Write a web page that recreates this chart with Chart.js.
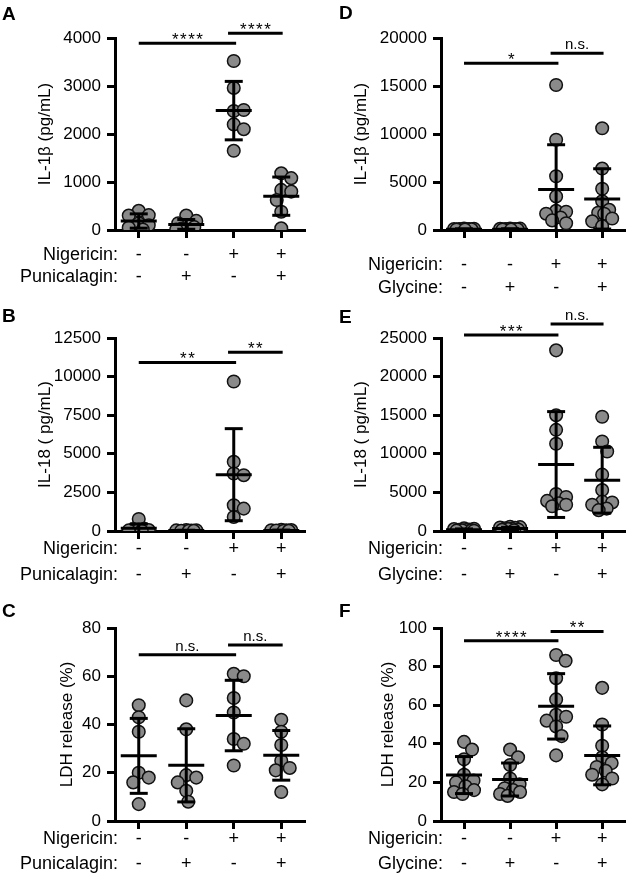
<!DOCTYPE html>
<html><head><meta charset="utf-8">
<script src="https://cdn.jsdelivr.net/npm/chart.js@4.4.1/dist/chart.umd.min.js"></script>
<style>
html,body{margin:0;padding:0;background:#fff;}
#wrap{position:relative;width:633px;height:874px;overflow:hidden;}
canvas{position:absolute;}
</style></head><body><div id="wrap">
<canvas id="cA" width="316" height="304" style="left:0;top:0"></canvas>
<canvas id="cD" width="317" height="304" style="left:316px;top:0"></canvas>
<canvas id="cB" width="316" height="304" style="left:0;top:290px"></canvas>
<canvas id="cE" width="317" height="304" style="left:316px;top:290px"></canvas>
<canvas id="cC" width="316" height="294" style="left:0;top:580px"></canvas>
<canvas id="cF" width="317" height="294" style="left:316px;top:580px"></canvas>
</div>
<script>
// ---------- data ----------
const nigericinRow = ['-', '-', '+', '+'];
const punicalaginRow = ['-', '+', '-', '+'];
const glycineRow = ['-', '+', '-', '+'];

// Panel A: IL-1β (pg/mL), punicalagin
const il1bPunicalagin = [
  [400, 310, 300, 140, 100, 50, 10],
  [300, 190, 140, 90, 60, 30, 10],
  [3520, 2960, 2480, 2500, 2200, 2100, 1650],
  [1180, 1080, 835, 800, 625, 380, 35]
];
// Panel B: IL-18 (pg/mL), punicalagin
const il18Punicalagin = [
  [780, 150, 120, 100, 60, 40, 20],
  [60, 50, 40, 30, 20, 10, 5],
  [9680, 4480, 3725, 3615, 1670, 1450, 910],
  [70, 60, 50, 40, 30, 20, 10]
];
// Panel C: LDH release (%), punicalagin
const ldhPunicalagin = [
  [48, 43, 37, 20, 18, 16, 7],
  [50, 38, 19, 18, 16, 12.5, 8],
  [61, 60, 51, 45, 34, 32, 23],
  [42, 37, 31.5, 25, 22, 21, 12]
];
// Panel D: IL-1β (pg/mL), glycine
const il1bGlycine = [
  [150, 130, 110, 100, 90, 80, 70, 60, 50, 40],
  [160, 140, 120, 100, 90, 80, 70, 60, 50, 40],
  [15100, 9400, 5600, 3500, 2000, 1900, 1700, 1300, 1000, 700],
  [10600, 6400, 4300, 3000, 2100, 1800, 1700, 1200, 900, 400]
];
// Panel E: IL-18 (pg/mL), glycine
const il18Glycine = [
  [350, 300, 250, 200, 150, 120, 100, 80, 50, 30],
  [550, 500, 450, 400, 350, 300, 250, 200, 150, 100],
  [23400, 15000, 13100, 11300, 4800, 4400, 3900, 3600, 3400, 3200],
  [14800, 11600, 10300, 7300, 5300, 3800, 3700, 3400, 2900, 2700]
];
// Panel F: LDH release (%), glycine
const ldhGlycine = [
  [41, 37, 32, 24, 21, 20, 18, 16, 15, 14],
  [37, 33, 29, 22, 19, 17, 16, 15, 14, 13],
  [86, 83, 74, 63, 55, 54, 52, 49, 44, 34],
  [69, 50, 39, 33, 30, 28, 26, 24, 22, 19]
];

// y tick labels
const ticksA = [0, 1000, 2000, 3000, 4000];
const ticksB = [0, 2500, 5000, 7500, 10000, 12500];
const ticksC = [0, 20, 40, 60, 80];
const ticksD = [0, 5000, 10000, 15000, 20000];
const ticksE = [0, 5000, 10000, 15000, 20000, 25000];
const ticksF = [0, 20, 40, 60, 80, 100];

// significance bars: [from group, to group, y value, label]
const sigA = [[0, 2.05, 3890, '****'], [1.88, 3.03, 4097, '****']];
const sigB = [[0, 2.05, 10920, '**'], [1.88, 3.03, 11570, '**']];
const sigC = [[0, 2.05, 68.9, 'n.s.'], [1.88, 3.03, 73, 'n.s.']];
const sigD = [[0, 2.05, 17360, '*'], [1.88, 3.03, 18400, 'n.s.']];
const sigE = [[0, 2.05, 25400, '***'], [1.88, 3.03, 26800, 'n.s.']];
const sigF = [[0, 2.05, 93.4, '****'], [1.88, 3.03, 98.2, '**']];

// ---------- drawing ----------
const FONT = '"Liberation Sans", Arial, Helvetica, sans-serif';
const mean = a => a.reduce((s, v) => s + v, 0) / a.length;
const sd = a => { const m = mean(a); return Math.sqrt(a.reduce((s, v) => s + (v - m) * (v - m), 0) / (a.length - 1)); };

function seg(ctx, x1, y1, x2, y2) { ctx.beginPath(); ctx.moveTo(x1, y1); ctx.lineTo(x2, y2); ctx.stroke(); }

const decoPlugin = {
  id: 'deco',
  afterDatasetsDraw(chart) {
    const cfg = chart.options.plugins.deco;
    const ctx = chart.ctx, xs = chart.scales.x, ys = chart.scales.y;
    ctx.save();
    ctx.strokeStyle = '#000'; ctx.lineWidth = 3; ctx.lineCap = 'butt';
    cfg.groups.forEach((vals, i) => {
      const m = mean(vals), s = sd(vals);
      const cx = xs.getPixelForValue(i);
      const yTop = ys.getPixelForValue(m + s);
      const lo = Math.max(m - s, 0);
      const yBot = ys.getPixelForValue(lo);
      const yM = ys.getPixelForValue(m);
      seg(ctx, cx, yTop, cx, yBot);
      seg(ctx, cx - 9, yTop, cx + 9, yTop);
      if (m - s > 0) seg(ctx, cx - 9, yBot, cx + 9, yBot);
      seg(ctx, cx - 18, yM, cx + 18, yM);
    });
    ctx.restore();
  },
  afterDraw(chart) {
    const cfg = chart.options.plugins.deco;
    const ctx = chart.ctx, xs = chart.scales.x, ys = chart.scales.y;
    ctx.save();
    ctx.strokeStyle = '#000'; ctx.fillStyle = '#000'; ctx.lineWidth = 3;
    // significance bars
    cfg.sig.forEach(([a, b, yv, lab]) => {
      const x1 = xs.getPixelForValue(a), x2 = xs.getPixelForValue(b);
      const y = ys.getPixelForValue(yv);
      seg(ctx, x1, y, x2, y);
      ctx.textAlign = 'center'; ctx.textBaseline = 'alphabetic';
      if (lab === 'n.s.') {
        ctx.font = '15px ' + FONT;
        ctx.fillText(lab, (x1 + x2) / 2, y - 4);
      } else {
        ctx.font = '17px ' + FONT;
        ctx.letterSpacing = '1.5px';
        ctx.fillText(lab, (x1 + x2) / 2 + 0.75, y + 2);
        ctx.letterSpacing = '0px';
      }
    });
    // bottom rows
    ctx.font = '18px ' + FONT;
    ctx.textBaseline = 'middle';
    cfg.rows.forEach((row, r) => {
      const y = ys.bottom + cfg.rowOff[r];
      ctx.textAlign = 'right';
      ctx.fillText(cfg.rowNames[r], cfg.labelRight, y);
      ctx.textAlign = 'center';
      row.forEach((sym, i) => ctx.fillText(sym, xs.getPixelForValue(i), y));
    });
    // panel letter
    ctx.font = 'bold 19px ' + FONT;
    ctx.textAlign = 'left'; ctx.textBaseline = 'alphabetic';
    ctx.fillText(cfg.letter, cfg.letterX, cfg.letterY);
    ctx.restore();
  }
};

function swarm(chart, groups) {
  const xs = chart.scales.x, ys = chart.scales.y;
  const unit = xs.getPixelForValue(1) - xs.getPixelForValue(0);
  const MIND = 11, MAXW = 10;
  const pts = [];
  groups.forEach((vals, gi) => {
    const placed = [];
    vals.forEach(v => {
      const py = ys.getPixelForValue(v);
      const cands = [0];
      for (let d = 0.5; d <= MAXW; d += 0.5) cands.push(d, -d);
      let best = 0, bestScore = -1;
      for (const dx of cands) {
        let mind = Infinity;
        for (const p of placed) { const dd = Math.hypot(dx - p.dx, py - p.py); if (dd < mind) mind = dd; }
        if (mind >= MIND) { best = dx; break; }
        if (mind > bestScore) { bestScore = mind; best = dx; }
      }
      placed.push({ dx: best, py });
      pts.push({ x: gi + best / unit, y: v });
    });
  });
  chart.data.datasets[0].data = pts;
  chart.update('none');
}

function makePanel(id, p) {
  const el = document.getElementById(id);
  const init = [];
  p.groups.forEach((vals, gi) => vals.forEach(v => init.push({ x: gi, y: v })));
  const axisGrid = { display: true, drawOnChartArea: false, drawTicks: true, tickLength: 8, tickWidth: 3, tickColor: '#000' };
  const axisBorder = { display: true, width: 3, color: '#000' };
  const chart = new Chart(el, {
    type: 'scatter',
    data: { datasets: [{
      data: init, pointRadius: 6.3, pointHoverRadius: 6.3, pointBorderWidth: 1.5,
      backgroundColor: '#8a8a8a', borderColor: '#111', showLine: false
    }] },
    options: {
      responsive: false, animation: false, events: [],
      layout: { padding: { left: 0, top: p.top, right: el.width - p.right, bottom: 0 } },
      plugins: { legend: { display: false }, tooltip: { enabled: false }, deco: p },
      scales: {
        x: {
          type: 'linear', min: -0.5, max: 3.5, z: 1,
          afterBuildTicks: s => { s.ticks = [0, 1, 2, 3].map(v => ({ value: v })); },
          afterFit: s => { s.height = el.height - p.bottom; },
          ticks: { display: false },
          grid: axisGrid, border: axisBorder
        },
        y: {
          type: 'linear', min: 0, max: p.ticks[p.ticks.length - 1], z: 1,
          afterBuildTicks: s => { s.ticks = p.ticks.map(v => ({ value: v })); },
          afterFit: s => { s.width = p.axisX; },
          ticks: { font: { family: FONT, size: 17 }, color: '#000', padding: 6, callback: v => String(v) },
          grid: axisGrid, border: axisBorder,
          title: { display: true, text: p.ytitle, color: '#000', font: { family: FONT, size: 17 },
                   padding: { top: p.titleX - 10.2, bottom: 0 } }
        }
      }
    },
    plugins: [decoPlugin]
  });
  swarm(chart, p.groups);
  return chart;
}

const puniNames = ['Nigericin:', 'Punicalagin:'];
const glyNames = ['Nigericin:', 'Glycine:'];

makePanel('cA', { groups: il1bPunicalagin, ticks: ticksA, sig: sigA, ytitle: 'IL-1β (pg/mL)',
  axisX: 115, top: 38, bottom: 230, right: 305, titleX: 45,
  rows: [nigericinRow, punicalaginRow], rowNames: puniNames, rowOff: [25.5, 47], labelRight: 118,
  letter: 'A', letterX: 2, letterY: 20 });
makePanel('cD', { groups: il1bGlycine, ticks: ticksD, sig: sigD, ytitle: 'IL-1β (pg/mL)',
  axisX: 125, top: 38, bottom: 230, right: 315, titleX: 45,
  rows: [nigericinRow, glycineRow], rowNames: glyNames, rowOff: [35, 58], labelRight: 127,
  letter: 'D', letterX: 23, letterY: 19 });
makePanel('cB', { groups: il18Punicalagin, ticks: ticksB, sig: sigB, ytitle: 'IL-18 ( pg/mL)',
  axisX: 115, top: 48, bottom: 241, right: 305, titleX: 45,
  rows: [nigericinRow, punicalaginRow], rowNames: puniNames, rowOff: [17.6, 44], labelRight: 118,
  letter: 'B', letterX: 2, letterY: 32 });
makePanel('cE', { groups: il18Glycine, ticks: ticksE, sig: sigE, ytitle: 'IL-18 ( pg/mL)',
  axisX: 125, top: 48, bottom: 241, right: 315, titleX: 45,
  rows: [nigericinRow, glycineRow], rowNames: glyNames, rowOff: [17.6, 44], labelRight: 127,
  letter: 'E', letterX: 23, letterY: 33 });
makePanel('cC', { groups: ldhPunicalagin, ticks: ticksC, sig: sigC, ytitle: 'LDH release (%)',
  axisX: 115, top: 48, bottom: 241, right: 305, titleX: 67,
  rows: [nigericinRow, punicalaginRow], rowNames: puniNames, rowOff: [17.6, 42.6], labelRight: 118,
  letter: 'C', letterX: 2, letterY: 37 });
makePanel('cF', { groups: ldhGlycine, ticks: ticksF, sig: sigF, ytitle: 'LDH release (%)',
  axisX: 125, top: 48, bottom: 241, right: 315, titleX: 72,
  rows: [nigericinRow, glycineRow], rowNames: glyNames, rowOff: [17.6, 42.6], labelRight: 127,
  letter: 'F', letterX: 23, letterY: 37 });
</script>
</body></html>
